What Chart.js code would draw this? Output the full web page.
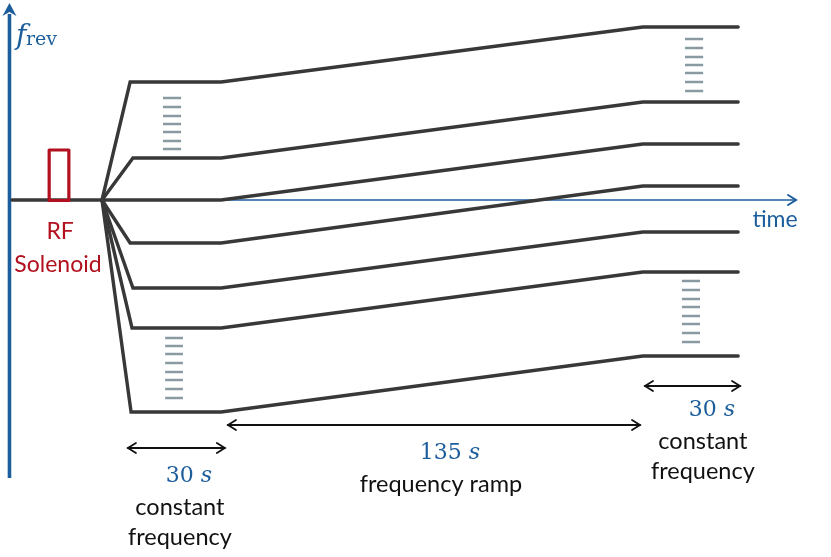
<!DOCTYPE html>
<html>
<head>
<meta charset="utf-8">
<script src="https://cdn.jsdelivr.net/npm/chart.js@4.4.1/dist/chart.umd.min.js"></script>
<style>
  html, body { margin: 0; padding: 0; background: #fff; }
  #wrap { width: 831px; height: 557px; }
</style>
</head>
<body>
<div id="wrap"><canvas id="grafico"></canvas></div>
<script>
// Tiempo en s (0 = momento de la inyección) y nivel de f_rev en unidades arbitrarias
const tInput = [-28.8, 0];
const tFan = [9.0, 9.9, 9.0, 9.0, 9.9, 9.6, 9.3];
const tRampStart = 38.1;
const tRampEnd = 173.0;
const tStop = 203.5;
const levelsStart = [118, 42, 0, -43, -88, -128, -212];
const levelsEnd = [173, 98, 56, 14, -32, -72, -156];

// Ejes dibujados a mano
const timeAxis = [-29.6, 221.7];
const freqAxis = [-278, 186];

// Pulso RF del solenoide
const rfPulseT = [-16.9, -10.6];
const rfPulseLevel = [-0.5, 50];

// Grupos de rayas grises (haces intermedios)
const dashSpans = [[19.5, 25.3], [20.2, 25.9], [186.5, 192.3], [185.5, 191.3]];
const dashLevels = [
    [102, 93, 84, 76, 68, 59, 51],
    [-138, -146, -154, -163, -172, -180, -189, -198],
    [161, 152, 143, 135, 127, 118, 109],
    [-81, -90, -99, -107, -116, -124, -133, -142]
];

// Flechas de duración: [desde, hasta, nivel]
const spans = [[8.3, 39.3, -248], [40.3, 172.1, -225], [173.7, 204.1, -186]];
const spanValues = ['30', '135', '30'];
const spanTexts = [['constant', 'frequency'], ['frequency ramp'], ['constant', 'frequency']];
const spanLabelPos = [[27.8, -276], [111.3, -253], [195.1, -210]];

const BLACK = '#383838';
const BLUE = '#1c5e9c';
const RED = '#b2101f';
const GRAY = '#8a9aa3';

let datasets = [];

// Eje de tiempo (debajo de todo)
datasets.push({
    data: [{x: timeAxis[0], y: 0}, {x: timeAxis[1], y: 0}],
    borderColor: BLUE, borderWidth: 1.6, order: 20
});
// Eje de frecuencia
datasets.push({
    data: [{x: timeAxis[0], y: freqAxis[0]}, {x: timeAxis[0], y: freqAxis[1]}],
    borderColor: BLUE, borderWidth: 3.6, borderCapStyle: 'butt', order: 19
});
// Haz de entrada
datasets.push({
    data: [{x: tInput[0], y: 0}, {x: tInput[1], y: 0}],
    borderColor: BLACK, borderWidth: 3.4, order: 5
});
// Líneas de cada haz
for (let i = 0; i < levelsStart.length; i++) {
    datasets.push({
        data: [
            {x: tInput[1], y: 0},
            {x: tFan[i], y: levelsStart[i]},
            {x: tRampStart, y: levelsStart[i]},
            {x: tRampEnd, y: levelsEnd[i]},
            {x: tStop, y: levelsEnd[i]}
        ],
        borderColor: BLACK, borderWidth: 3.4, order: 5
    });
}
// Rayas grises
for (let g = 0; g < dashSpans.length; g++) {
    let pts = [];
    dashLevels[g].forEach(function (l) {
        pts.push({x: dashSpans[g][0], y: l});
        pts.push({x: dashSpans[g][1], y: l});
        pts.push({x: dashSpans[g][1], y: null});
    });
    datasets.push({data: pts, borderColor: GRAY, borderWidth: 2.4, spanGaps: false, borderCapStyle: 'butt', order: 6});
}
// Pulso RF (rectángulo cerrado)
datasets.push({
    data: [
        {x: rfPulseT[0], y: rfPulseLevel[0]},
        {x: rfPulseT[0], y: rfPulseLevel[1]},
        {x: rfPulseT[1], y: rfPulseLevel[1]},
        {x: rfPulseT[1], y: rfPulseLevel[0]},
        {x: rfPulseT[0], y: rfPulseLevel[0]}
    ],
    borderColor: RED, borderWidth: 3.2, borderJoinStyle: 'round', borderCapStyle: 'round', order: 1
});

function textoMixto(ctx, partes, cx, cy) {
    let ancho = 0;
    partes.forEach(function (p) { ctx.font = p.font; ancho += ctx.measureText(p.text).width; });
    let x = cx - ancho / 2;
    partes.forEach(function (p) {
        ctx.font = p.font;
        ctx.fillText(p.text, x, cy + (p.dy || 0));
        x += ctx.measureText(p.text).width;
    });
}

function cabeza(ctx, x, y, dir) {
    ctx.beginPath();
    ctx.moveTo(x - dir * 8, y - 5);
    ctx.lineTo(x, y);
    ctx.lineTo(x - dir * 8, y + 5);
    ctx.stroke();
}

const anotaciones = {
    id: 'anotaciones',
    afterDatasetsDraw(chart) {
        const ctx = chart.ctx;
        const px = t => chart.scales.x.getPixelForValue(t);
        const py = v => chart.scales.y.getPixelForValue(v);
        ctx.save();

        // Punta del eje de frecuencia
        const ax = px(timeAxis[0]), ay = py(freqAxis[1]);
        ctx.fillStyle = BLUE;
        ctx.beginPath();
        ctx.moveTo(ax, ay - 11);
        ctx.lineTo(ax - 7, ay + 2);
        ctx.lineTo(ax, ay - 2);
        ctx.lineTo(ax + 7, ay + 2);
        ctx.closePath();
        ctx.fill();

        // Punta del eje de tiempo
        ctx.strokeStyle = BLUE;
        ctx.lineWidth = 2;
        ctx.lineCap = 'round';
        cabeza(ctx, px(timeAxis[1]) + 1, py(0), 1);

        // Flechas de duración
        ctx.strokeStyle = '#111';
        ctx.lineWidth = 1.8;
        spans.forEach(function (s) {
            const y = py(s[2]);
            ctx.beginPath();
            ctx.moveTo(px(s[0]), y);
            ctx.lineTo(px(s[1]), y);
            ctx.stroke();
            cabeza(ctx, px(s[0]), y, -1);
            cabeza(ctx, px(s[1]), y, 1);
        });

        ctx.textBaseline = 'middle';
        ctx.textAlign = 'left';
        // Etiquetas de duración
        spans.forEach(function (s, i) {
            const cx = px(spanLabelPos[i][0]);
            const cy = py(spanLabelPos[i][1]);
            ctx.fillStyle = BLUE;
            textoMixto(ctx, [
                {text: spanValues[i] + ' ', font: '22px "DejaVu Serif"'},
                {text: 's', font: 'italic 22px "DejaVu Serif"'}
            ], cx, cy);
            ctx.fillStyle = '#111';
            ctx.font = '23.5px Lato';
            spanTexts[i].forEach(function (t, k) {
                const w = ctx.measureText(t).width;
                ctx.fillText(t, cx - 9 - w / 2, cy + 31 + k * 30);
            });
        });

        // RF Solenoid
        ctx.fillStyle = RED;
        ctx.font = '23px Lato';
        ctx.textAlign = 'center';
        ctx.fillText('RF', px(-13.4), py(-32));
        ctx.fillText('Solenoid', px(-14.1), py(-65));

        // time
        ctx.fillStyle = BLUE;
        ctx.fillText('time', px(215.3), py(-20));

        // f_rev
        ctx.textAlign = 'left';
        ctx.textBaseline = 'alphabetic';
        ctx.font = 'italic 28px "DejaVu Serif"';
        ctx.fillText('f', 16, 44);
        ctx.font = '19px "DejaVu Serif"';
        ctx.fillText('rev', 26, 45);

        ctx.restore();
    }
};

new Chart(document.getElementById('grafico'), {
    type: 'scatter',
    data: {datasets: datasets},
    options: {
        responsive: true,
        maintainAspectRatio: false,
        animation: false,
        layout: {padding: 0},
        showLine: true,
        elements: {
            point: {radius: 0, hoverRadius: 0},
            line: {borderCapStyle: 'round', borderJoinStyle: 'miter', tension: 0, fill: false}
        },
        scales: {
            x: {type: 'linear', display: false, min: -32.63, max: 233.2},
            y: {type: 'linear', display: false, min: -357, max: 200}
        },
        plugins: {
            legend: {display: false},
            tooltip: {enabled: false}
        }
    },
    plugins: [anotaciones]
});
</script>
</body>
</html>
